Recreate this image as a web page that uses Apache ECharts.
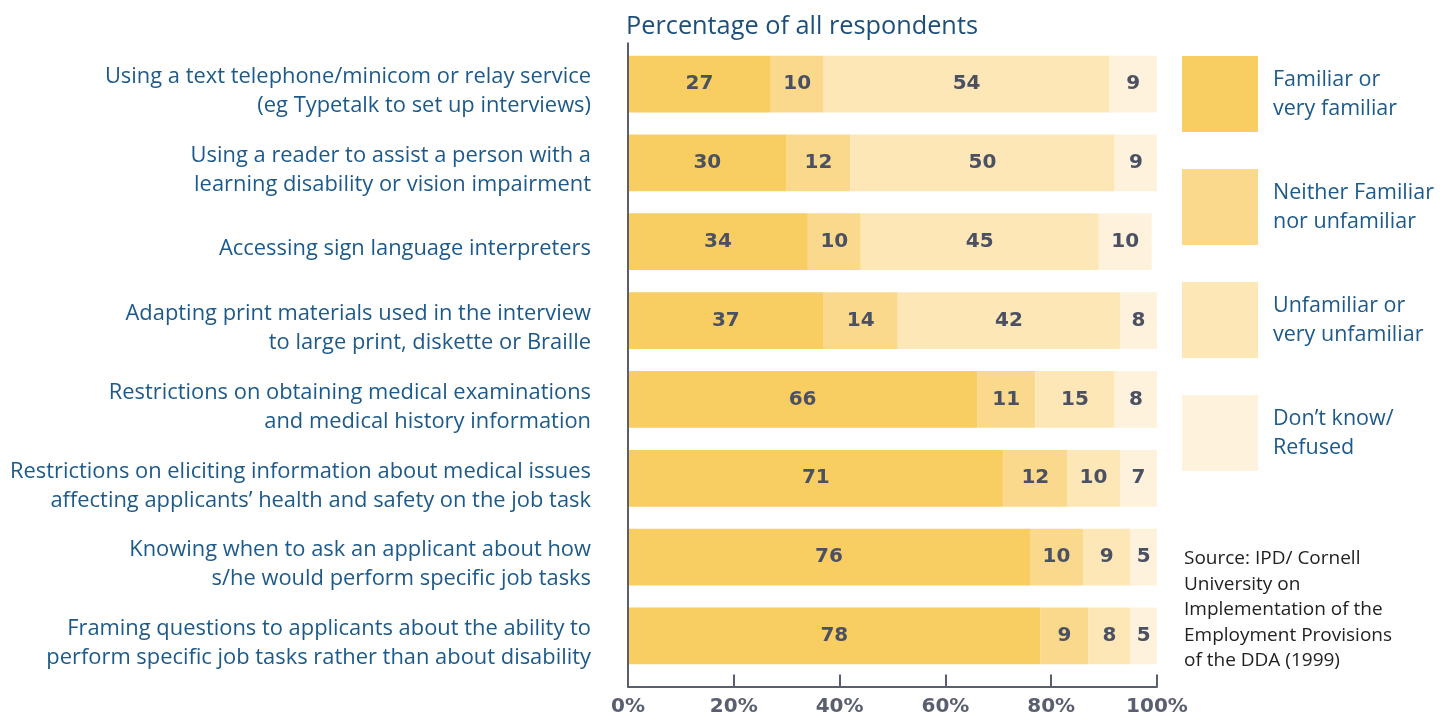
<!DOCTYPE html>
<html><head><meta charset="utf-8">
<script src="https://cdn.jsdelivr.net/npm/echarts@6/dist/echarts.min.js"></script>
<style>html,body{margin:0;padding:0;background:#fff}#c{width:1451px;height:720px}</style>
</head><body><div id="c"></div>
<script>
const categories = [
  "Using a text telephone/minicom or relay service\n(eg Typetalk to set up interviews)",
  "Using a reader to assist a person with a\nlearning disability or vision impairment",
  "Accessing sign language interpreters",
  "Adapting print materials used in the interview\nto large print, diskette or Braille",
  "Restrictions on obtaining medical examinations\nand medical history information",
  "Restrictions on eliciting information about medical issues\naffecting applicants’ health and safety on the job task",
  "Knowing when to ask an applicant about how\ns/he would perform specific job tasks",
  "Framing questions to applicants about the ability to\nperform specific job tasks rather than about disability"
];
const familiar   = [27, 30, 34, 37, 66, 71, 76, 78];
const neither    = [10, 12, 10, 14, 11, 12, 10, 9];
const unfamiliar = [54, 50, 45, 42, 15, 10, 9, 8];
const dontKnow   = [9, 9, 10, 8, 8, 7, 5, 5];
const seriesNames = ["Familiar or\nvery familiar", "Neither Familiar\nnor unfamiliar", "Unfamiliar or\nvery unfamiliar", "Don’t know/\nRefused"];
const xTicks = [0, 20, 40, 60, 80, 100];

const colors = ["#F8CE62", "#FAD88C", "#FDE7B7", "#FEF2DC"];
const blue = "#1D5A8A";
const chart = echarts.init(document.getElementById('c'));
const seriesData = [familiar, neither, unfamiliar, dontKnow];
const option = {
  animation: false,
  title: [
    {text: "Percentage of all respondents", left: 621, top: 9,
     textStyle: {fontFamily: "Open Sans", fontWeight: "normal", fontSize: 25.3, color: "#1D4F7A"}},
    {text: "Source: IPD/ Cornell\nUniversity on\nImplementation of the\nEmployment Provisions\nof the DDA (1999)", left: 1179, top: 541,
     textStyle: {fontFamily: "Open Sans", fontWeight: "normal", fontSize: 19, lineHeight: 25.5, color: "#222"}}
  ],
  legend: {
    orient: "vertical", left: 1182, top: 56, padding: 0, itemWidth: 76, itemHeight: 76, itemGap: 37,
    icon: "rect", selectedMode: false,
    textStyle: {fontFamily: "Open Sans", fontSize: 21.5, lineHeight: 29, color: blue, padding: [2,0,0,10]},
    data: seriesNames
  },
  grid: {left: 628, right: 294, top: 44.6, bottom: 44.6},
  xAxis: {
    type: "value", min: 0, max: 100, interval: 20, offset: 11,
    axisLine: {show: true, lineStyle: {color: "#5A5F70", width: 2}},
    axisTick: {show: true, inside: true, length: 12, lineStyle: {color: "#5A5F70", width: 2}},
    splitLine: {show: false},
    axisLabel: {formatter: v => xTicks.includes(v) ? v + "%" : "", fontFamily: "DejaVu Sans", fontWeight: "bold",
      fontSize: 20, color: "#5A5F70", margin: 10}
  },
  yAxis: {
    type: "category", inverse: true, data: categories,
    axisLine: {show: false}, axisTick: {show: false},
    axisLabel: {fontFamily: "Open Sans", fontSize: 21.9, lineHeight: 29, color: blue, margin: 37, align: "right",
      formatter: v => "{s| }\n" + v.split("\n").map(l => "{t|" + l + "}").join("\n"),
      rich: {
        s: {fontSize: 4, lineHeight: 15, height: 15},
        t: {fontFamily: "Open Sans", fontSize: 21.9, lineHeight: 29, color: blue}
      }}
  },
  series: seriesData.map((d, i) => ({
    name: seriesNames[i], type: "bar", stack: "all", barWidth: "72%", data: d,
    itemStyle: {color: colors[i]},
    label: {show: true, position: "inside", fontFamily: "DejaVu Sans", fontWeight: "bold", fontSize: 20, color: "#4B5163"}
  }))
};
chart.setOption(option);
const x0 = chart.convertToPixel({xAxisIndex: 0}, 0);
const rect = chart.getModel().getComponent('grid').coordinateSystem.getRect();
chart.setOption({graphic: [{type: "line", shape: {x1: x0, y1: rect.y - 2, x2: x0, y2: rect.y + rect.height + 12},
  style: {stroke: "#5A5F70", lineWidth: 2}, z: 10}]});
</script></body></html>
